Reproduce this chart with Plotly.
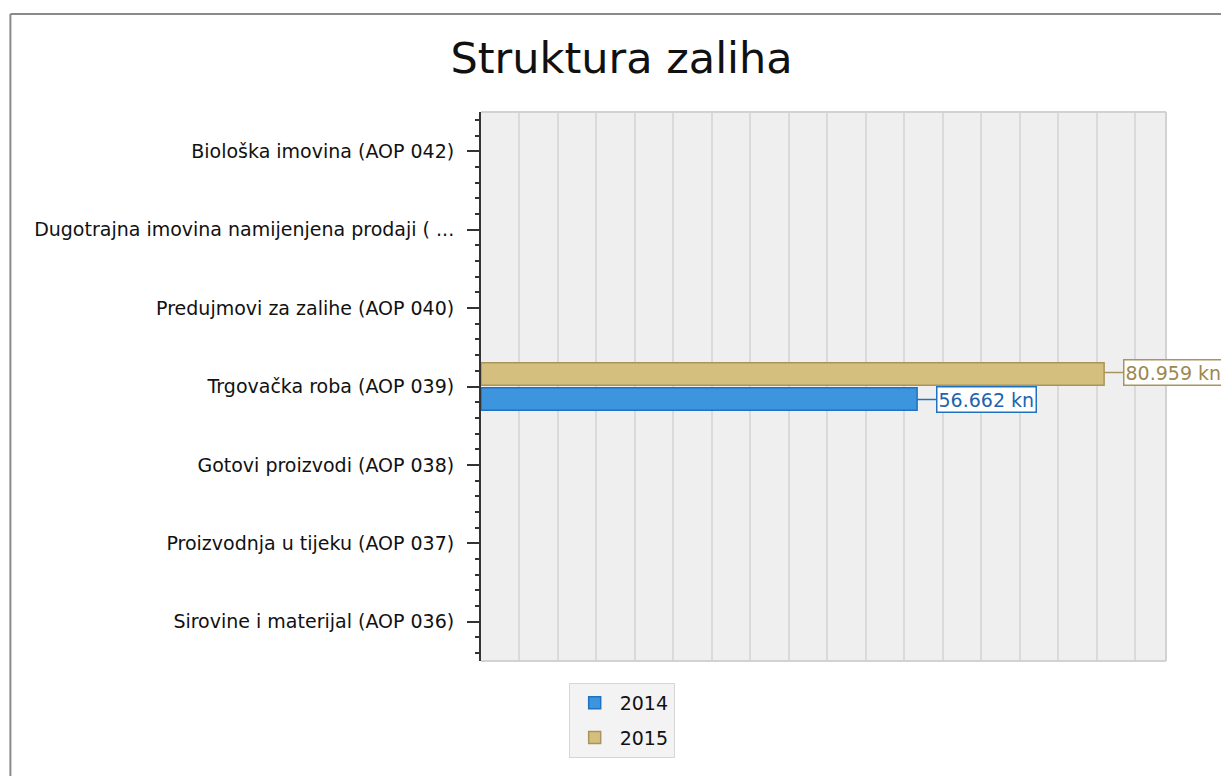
import plotly.graph_objects as go

# categories, bottom to top as drawn on the axis
categories = [
    "Sirovine i materijal (AOP 036)",
    "Proizvodnja u tijeku (AOP 037)",
    "Gotovi proizvodi (AOP 038)",
    "Trgovačka roba (AOP 039)",
    "Predujmovi za zalihe (AOP 040)",
    "Dugotrajna imovina namijenjena prodaji ( ...",
    "Biološka imovina (AOP 042)",
]
values_2014 = [None, None, None, 56662, None, None, None]
values_2015 = [None, None, None, 80959, None, None, None]

series = [
    ("2014", values_2014, "#3d95dd", "#1f72c2", "#1c64b0"),
    ("2015", values_2015, "#d4bf7e", "#a8955c", "#9c8850"),
]

FONT = "DejaVu Sans"


def fmt_kn(v):
    return f"{v:,.0f}".replace(",", ".") + " kn"


ypos = list(range(len(categories)))

fig = go.Figure()
annotations = []
for name, vals, fill, edge, txt in series:
    fig.add_trace(go.Bar(
        name=name, x=vals, y=ypos, orientation="h", legendgroup=name,
        marker=dict(color=fill, line=dict(color=edge, width=1.5)),
    ))
    for i, v in enumerate(vals):
        if v is None:
            continue
        annotations.append(dict(
            x=v, y=i, xref="x", yref="y", text=fmt_kn(v),
            showarrow=True, arrowhead=0, arrowwidth=1.5, arrowcolor=edge,
            ax=19, ay=0, xanchor="left",
            font=dict(family=FONT, size=19, color=txt),
            bgcolor="white", bordercolor=edge, borderwidth=1.5, borderpad=1,
        ))

# the bars are offset inside the group: place labels at bar centres
annotations[0]["yshift"] = -13
annotations[1]["yshift"] = 14

frame = "#d2d2d2"
shapes = [
    dict(type="line", xref="paper", yref="paper", x0=0, x1=1, y0=1, y1=1,
         line=dict(color=frame, width=2)),
    dict(type="line", xref="paper", yref="paper", x0=1, x1=1, y0=0, y1=1,
         line=dict(color=frame, width=2)),
    dict(type="line", xref="paper", yref="paper", x0=0, x1=1, y0=0, y1=0,
         line=dict(color=frame, width=2)),
    # outer window border (top and left are visible)
    dict(type="line", xref="paper", yref="paper", x0=-0.687, x1=1.2, y0=1.1785, y1=1.1785,
         line=dict(color="#8a8a8a", width=2)),
    dict(type="line", xref="paper", yref="paper", x0=-0.687, x1=-0.687, y0=-0.3, y1=1.1785,
         line=dict(color="#8a8a8a", width=2)),
]

fig.update_layout(
    width=1221, height=768,
    margin=dict(l=473, r=63, t=104, b=115),
    paper_bgcolor="white", plot_bgcolor="#efefef",
    font=dict(family=FONT, size=19, color="#111111"),
    title=dict(text="Struktura zaliha", x=0.5025, xref="container", xanchor="center",
               y=0.9349, yref="container", yanchor="middle",
               font=dict(family=FONT, size=43, color="#111111")),
    barmode="group", bargap=0.36, bargroupgap=0.1,
    showlegend=True,
    legend=dict(x=0.128, y=-0.04, xanchor="left", yanchor="top",
                traceorder="grouped", orientation="v", tracegroupgap=7,
                itemwidth=40,
                bgcolor="#f3f3f3", bordercolor="#d6d6d6", borderwidth=1,
                font=dict(family=FONT, size=19, color="#111111")),
    annotations=annotations,
    shapes=shapes,
)

fig.update_xaxes(
    range=[0, 89000], dtick=5000, tick0=0, showticklabels=False,
    showgrid=True, gridcolor="#dadada", gridwidth=2,
    zeroline=False, showline=False, ticks="",
)
fig.update_yaxes(
    range=[-0.5, 6.5], tickmode="array", tickvals=ypos, ticktext=categories,
    showgrid=False, zeroline=False,
    showline=True, linecolor="#333333", linewidth=2,
    ticks="outside", ticklen=12, tickwidth=1.5, tickcolor="#333333",
    ticklabelstandoff=9,
    minor=dict(dtick=0.2, tick0=0, ticks="outside", ticklen=4, tickwidth=1.5,
               tickcolor="#333333", showgrid=False),
    tickfont=dict(family=FONT, size=19, color="#111111"),
)

fig.write_html("out.html")
